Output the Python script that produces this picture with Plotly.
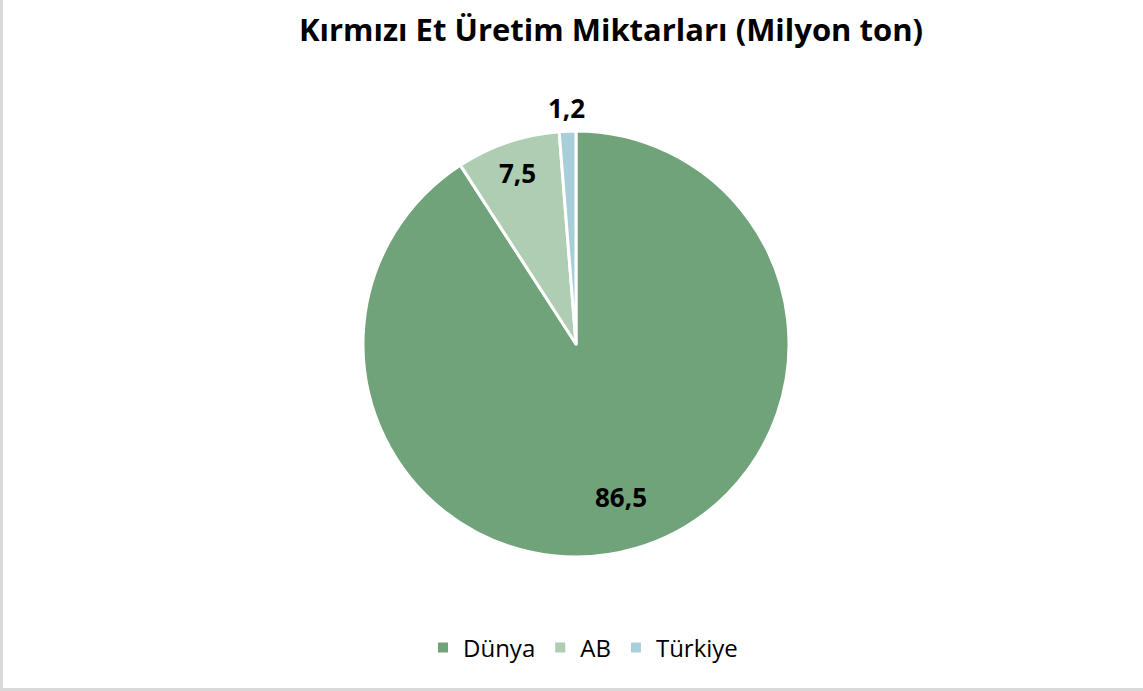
import math
import plotly.graph_objects as go

# Red meat production, million tonnes
categories = ["Dünya", "AB", "Türkiye"]
values = [86.5, 7.5, 1.2]
colors = ["#71a37a", "#afcdb2", "#a8ced9"]
title_text = "Kırmızı Et Üretim Miktarları (Milyon ton)"

W, H = 1143, 691
cx, cy, r = 576, 344, 213
# distance of each value label from the pie centre, as a fraction of the radius
label_dist = [0.75, 0.85, 1.11]

fig = go.Figure(
    go.Pie(
        labels=categories,
        values=values,
        sort=False,
        direction="clockwise",
        rotation=0,
        marker=dict(colors=colors, line=dict(color="white", width=3)),
        textinfo="none",
        hoverinfo="label+value",
        domain=dict(x=[(cx - r) / W, (cx + r) / W], y=[1 - (cy + r) / H, 1 - (cy - r) / H]),
    )
)

# value labels placed along each slice's mid-angle
total = sum(values)
annotations = []
acc = 0.0
for v, d in zip(values, label_dist):
    mid = (acc + v / 2) / total * 2 * math.pi
    acc += v
    px = cx + d * r * math.sin(mid)
    py = cy - d * r * math.cos(mid)
    annotations.append(dict(
        x=px / W, y=1 - py / H, xref="paper", yref="paper",
        text=f"{v:.1f}".replace(".", ","), showarrow=False,
        xanchor="center", yanchor="middle",
        font=dict(family="Open Sans", size=26, color="black", weight="bold"),
    ))

fig.update_layout(
    width=W,
    height=H,
    margin=dict(l=0, r=0, t=0, b=0),
    paper_bgcolor="white",
    separators=",.",
    annotations=annotations,
    title=dict(
        text=title_text,
        x=611 / W,
        xanchor="center",
        y=1 - 30 / H,
        yanchor="middle",
        font=dict(family="Open Sans", size=31, color="black", weight="bold"),
    ),
    legend=dict(
        orientation="h",
        x=583 / W,
        xanchor="center",
        y=1 - 648 / H,
        yanchor="middle",
        font=dict(family="Open Sans", size=24, color="black"),
        itemsizing="constant",
    ),
    shapes=[
        dict(type="rect", xref="paper", yref="paper", x0=0, x1=3 / W, y0=0, y1=1,
             fillcolor="#d9d9d9", line=dict(width=0), layer="above"),
        dict(type="rect", xref="paper", yref="paper", x0=0, x1=1, y0=0, y1=3 / H,
             fillcolor="#d9d9d9", line=dict(width=0), layer="above"),
    ],
)

fig.write_html("out.html")
